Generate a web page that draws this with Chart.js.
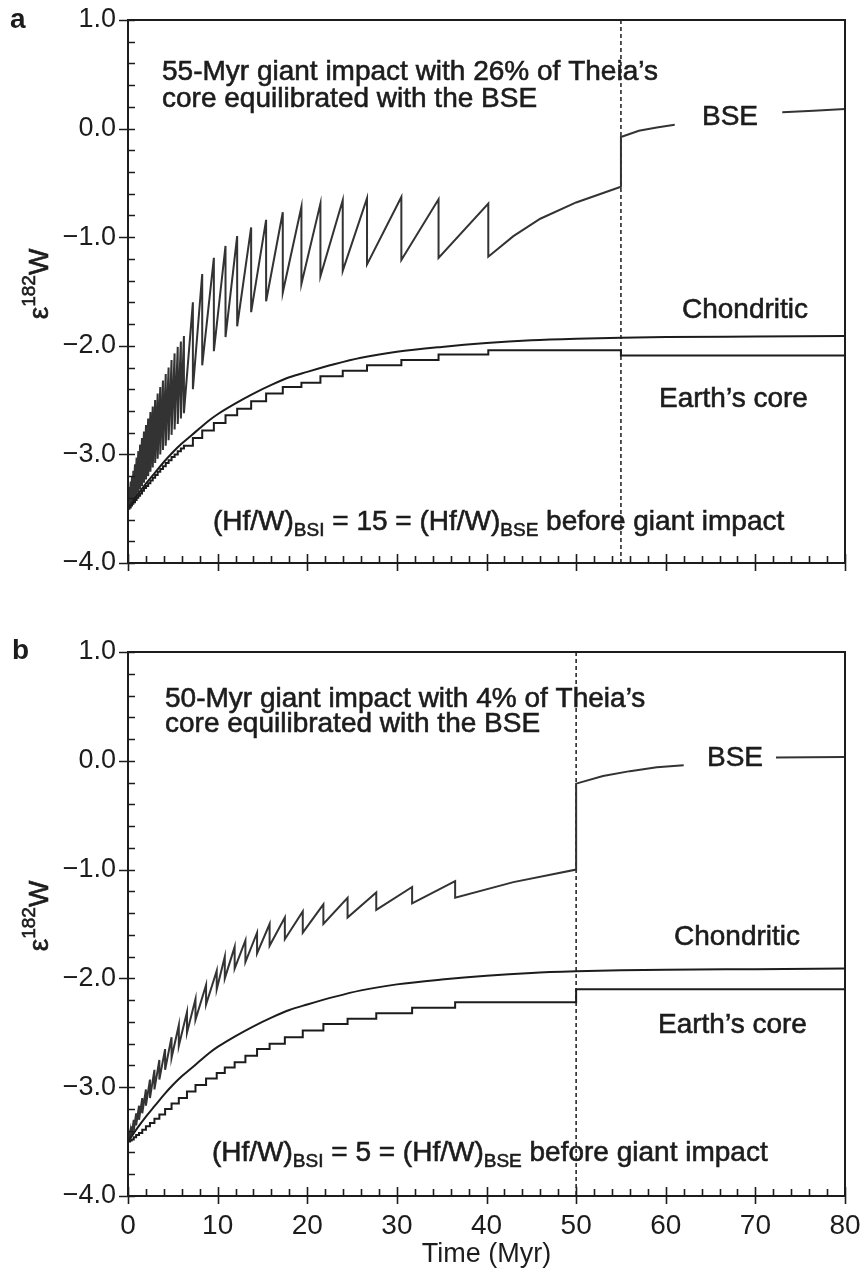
<!DOCTYPE html>
<html>
<head>
<meta charset="utf-8">
<script src="https://cdn.jsdelivr.net/npm/chart.js@4.4.1/dist/chart.umd.min.js"></script>
<style>
  html, body { margin: 0; padding: 0; background: #fff; }
  canvas { position: absolute; left: 0; display: block; }
</style>
</head>
<body>
<canvas id="panelA" width="864" height="600" style="top:0"></canvas>
<canvas id="panelB" width="864" height="679" style="top:600px"></canvas>
<script>
// ---- data (time in Myr, epsilon 182W) ----

// chondritic reference curve (same in both panels)
var chondTimes = [0, 1, 2, 3, 4, 5, 6, 7, 8, 9, 10, 12, 14, 16, 18, 20, 23, 26, 30, 35, 40, 45, 50, 55, 60, 70, 80];
var chondVals = [-3.5, -3.38, -3.27, -3.17, -3.07, -2.98, -2.9, -2.83, -2.76, -2.69, -2.63, -2.53, -2.44, -2.36, -2.29,
  -2.24, -2.17, -2.11, -2.055, -2.01, -1.975, -1.95, -1.935, -1.925, -1.92, -1.915, -1.91];

// panel a: 55-Myr giant impact
var impactsA = [0.15, 0.3, 0.45, 0.6, 0.78, 0.96, 1.15, 1.35, 1.56, 1.78, 2.01, 2.25, 2.5, 2.76, 3.03, 3.31, 3.6,
  3.9, 4.21, 4.53, 4.86, 5.2, 5.55, 5.9, 6.24, 7.24, 8.28, 9.58, 10.88, 12.18, 13.74, 15.41, 17.27, 19.35, 21.47,
  23.96, 26.67, 30.5, 34.65, 40.2];
var bsePeaksA = [-3.3, -3.25, -3.2, -3.15, -3.09, -3.03, -2.97, -2.91, -2.85, -2.79, -2.73, -2.67, -2.61, -2.56,
  -2.5, -2.44, -2.38, -2.32, -2.26, -2.2, -2.13, -2.07, -2.01, -1.96, -1.91, -1.6, -1.34, -1.19, -1.08, -0.99,
  -0.91, -0.84, -0.77, -0.72, -0.69, -0.66, -0.64, -0.63, -0.65, -0.69];
var bseTroughsA = [-3.48, -3.46, -3.44, -3.42, -3.4, -3.38, -3.35, -3.32, -3.29, -3.26, -3.23, -3.2, -3.16, -3.12,
  -3.08, -3.04, -3.0, -2.96, -2.92, -2.87, -2.82, -2.77, -2.72, -2.67, -2.62, -2.4, -2.18, -2.05, -1.92, -1.82,
  -1.69, -1.59, -1.51, -1.43, -1.36, -1.31, -1.25, -1.21, -1.19, -1.18];
var bseTailTimesA = [43, 46, 50, 55, 55, 57, 59, 61, 67, 73, 76.5, 80];
var bseTailValsA = [-0.99, -0.83, -0.68, -0.535, -0.077, -0.02, 0.01, 0.035, null, 0.15, 0.165, 0.18];
var coreTimesA = [0, 0.15, 0.3, 0.45, 0.6, 0.78, 0.96, 1.15, 1.35, 1.56, 1.78, 2.01, 2.25, 2.5, 2.76, 3.03, 3.31,
  3.6, 3.9, 4.21, 4.53, 4.86, 5.2, 5.55, 5.9, 6.24, 7.24, 8.28, 9.58, 10.88, 12.18, 13.74, 15.41, 17.27, 19.35,
  21.47, 23.96, 26.67, 30.5, 34.65, 40.2, 55, 80];
var coreValsA = [-3.5, -3.49, -3.47, -3.455, -3.44, -3.42, -3.4, -3.38, -3.36, -3.335, -3.31, -3.29, -3.265, -3.24,
  -3.215, -3.19, -3.16, -3.135, -3.11, -3.08, -3.055, -3.025, -3.0, -2.97, -2.945, -2.92, -2.85, -2.78, -2.71,
  -2.64, -2.58, -2.51, -2.44, -2.38, -2.34, -2.28, -2.23, -2.18, -2.13, -2.08, -2.04, -2.09, -2.09];

// panel b: 50-Myr giant impact
var impactsB = [0.23, 0.41, 0.64, 0.91, 1.23, 1.59, 2.0, 2.45, 2.95, 3.5, 4.14, 4.86, 5.67, 6.58, 7.53, 8.71,
  9.9, 10.8, 11.9, 13.1, 14.4, 15.8, 17.5, 19.5, 21.8, 24.5, 27.7, 31.7, 36.5];
var bsePeaksB = [-3.41, -3.36, -3.3, -3.24, -3.17, -3.1, -3.02, -2.93, -2.84, -2.75, -2.65, -2.54, -2.43, -2.31,
  -2.19, -2.06, -1.93, -1.8, -1.71, -1.65, -1.58, -1.5, -1.44, -1.385, -1.32, -1.26, -1.21, -1.16, -1.106];
var bseTroughsB = [-3.47, -3.44, -3.4, -3.35, -3.3, -3.24, -3.17, -3.1, -3.02, -2.93, -2.84, -2.73, -2.62, -2.5,
  -2.38, -2.24, -2.1, -2.0, -1.91, -1.85, -1.77, -1.7, -1.64, -1.58, -1.5, -1.44, -1.37, -1.31, -1.258];
var bseTailTimesB = [43, 50, 50, 53, 56, 59, 62, 67, 72.3, 76, 80];
var bseTailValsB = [-1.115, -1.0, -0.21, -0.14, -0.095, -0.06, -0.04, null, 0.03, 0.033, 0.035];
var coreTimesB = [0, 0.23, 0.41, 0.64, 0.91, 1.23, 1.59, 2.0, 2.45, 2.95, 3.5, 4.14, 4.86, 5.67, 6.58, 7.53, 8.71,
  9.9, 10.8, 11.9, 13.1, 14.4, 15.8, 17.5, 19.5, 21.8, 24.5, 27.7, 31.7, 36.5, 50, 80];
var coreValsB = [-3.5, -3.49, -3.48, -3.46, -3.44, -3.42, -3.39, -3.36, -3.33, -3.29, -3.25, -3.2, -3.15, -3.1,
  -3.04, -2.98, -2.92, -2.87, -2.82, -2.77, -2.71, -2.65, -2.6, -2.54, -2.48, -2.42, -2.37, -2.32, -2.27, -2.22,
  -2.1, -2.1];

// axes
var xTickLabels = [0, 10, 20, 30, 40, 50, 60, 70, 80];
var yTickLabels = [1, 0, -1, -2, -3, -4];

var INK = "#1c1c1c";
var FONT = '"Liberation Sans", Arial, Helvetica, sans-serif';

function toPoints(xs, ys) {
  return xs.map(function (x, i) { return { x: x, y: ys[i] }; });
}

// sawtooth: slow rise between impacts, sharp drop at every impact
function sawtooth(impacts, peaks, troughs, tailT, tailV) {
  var pts = [{ x: 0, y: -3.5 }];
  impacts.forEach(function (t, i) {
    pts.push({ x: t, y: peaks[i] });
    pts.push({ x: t, y: troughs[i] });
  });
  return pts.concat(toPoints(tailT, tailV));
}

function fmtY(v) {
  return (v < 0 ? "\u2212" : "") + Math.abs(v).toFixed(1);
}

// text with sub/superscripts, slightly thickened like the scanned print
function drawRich(ctx, parts, x, y, size, align) {
  var total = 0;
  parts.forEach(function (p) {
    p.size = p.sub || p.sup ? Math.round(size * 0.68) : size;
    ctx.font = p.size + "px " + FONT;
    p.w = ctx.measureText(p.t).width;
    total += p.w;
  });
  var cx = align === "center" ? x - total / 2 : align === "right" ? x - total : x;
  ctx.lineWidth = 0.6;
  ctx.strokeStyle = INK;
  parts.forEach(function (p) {
    ctx.font = p.size + "px " + FONT;
    var dy = p.sub ? size * 0.3 : p.sup ? -size * 0.36 : 0;
    ctx.fillText(p.t, cx, y + dy);
    ctx.strokeText(p.t, cx, y + dy);
    cx += p.w;
  });
}

// frame, inward ticks, annotations
var frameTicks = {
  id: "frameTicks",
  afterDatasetsDraw: function (chart, args, opts) {
    var ctx = chart.ctx, a = chart.chartArea;
    var xs = chart.scales.x, ys = chart.scales.y;
    ctx.save();
    ctx.strokeStyle = INK;
    ctx.lineWidth = 2;
    ctx.strokeRect(a.left, a.top, a.right - a.left, a.bottom - a.top);

    ctx.lineWidth = 1.6;
    ctx.beginPath();
    var v, p;
    for (v = -4; v <= 1.001; v += 0.2) {
      p = Math.round(ys.getPixelForValue(v)) + 0.5;
      var major = Math.abs(v - Math.round(v)) < 0.01;
      ctx.moveTo(a.left - (major ? 9 : 0), p);
      ctx.lineTo(a.left + 7, p);
    }
    for (v = 0; v <= 80.001; v += 2) {
      p = Math.round(xs.getPixelForValue(v)) + 0.5;
      var majorX = v % 10 === 0;
      ctx.moveTo(p, a.bottom + (majorX ? 8 : 0));
      ctx.lineTo(p, a.bottom - (majorX ? 9 : 7));
    }
    ctx.stroke();

    ctx.fillStyle = INK;
    ctx.textBaseline = "middle";
    // panel letter
    ctx.font = "bold 28px " + FONT;
    ctx.textAlign = "left";
    ctx.fillText(opts.letter, opts.letterX, opts.letterY);

    // y axis title, rotated
    ctx.save();
    ctx.translate(opts.titleX, opts.titleY);
    ctx.rotate(-Math.PI / 2);
    drawRich(ctx, [{ t: "\u03b5" }, { t: "182", sup: true }, { t: "W" }], 0, 0, 28, "center");
    ctx.restore();

    opts.notes.forEach(function (n) {
      drawRich(ctx, n.parts, n.x, n.y, 28, n.align || "left");
    });
    ctx.restore();
  }
};

function makePanel(id, cfg) {
  var lineStyle = { borderColor: INK, borderWidth: 2, pointRadius: 0, fill: false };
  return new Chart(document.getElementById(id), {
    type: "line",
    data: {
      datasets: [
        Object.assign({ data: toPoints(chondTimes, chondVals), cubicInterpolationMode: "monotone" }, lineStyle),
        Object.assign({ data: toPoints(cfg.coreT, cfg.coreV), stepped: "before" }, lineStyle),
        Object.assign({ data: cfg.bse, spanGaps: false }, lineStyle, { borderColor: "#333333" }),
        {
          data: [{ x: cfg.impact, y: 1 }, { x: cfg.impact, y: -4 }],
          borderColor: INK, borderWidth: 1.5, borderDash: [4, 3], pointRadius: 0
        }
      ]
    },
    options: {
      responsive: false,
      animation: false,
      devicePixelRatio: 1,
      layout: { padding: { top: cfg.top, right: 19, left: 0, bottom: 0 } },
      plugins: {
        legend: { display: false },
        tooltip: { enabled: false },
        frameTicks: cfg.deco
      },
      scales: {
        x: {
          type: "linear",
          min: 0,
          max: 80,
          grid: { display: false, drawTicks: false },
          border: { display: false },
          afterBuildTicks: function (s) { s.ticks = xTickLabels.map(function (v) { return { value: v }; }); },
          ticks: {
            display: cfg.xLabels,
            color: INK,
            padding: 13,
            maxRotation: 0,
            font: { family: FONT, size: 28 }
          },
          title: {
            display: cfg.xLabels,
            text: "Time (Myr)",
            color: INK,
            font: { family: FONT, size: 27 },
            padding: { top: 0, bottom: 8 }
          },
          afterFit: function (s) {
            s.height = cfg.xHeight;
            s.paddingLeft = 0;
            s.paddingRight = 0;
          }
        },
        y: {
          type: "linear",
          min: -4,
          max: 1,
          grid: { display: false, drawTicks: false },
          border: { display: false },
          afterBuildTicks: function (s) { s.ticks = yTickLabels.map(function (v) { return { value: v }; }); },
          ticks: {
            color: INK,
            padding: 12,
            callback: fmtY,
            font: { family: FONT, size: 27 }
          },
          afterFit: function (s) {
            s.width = 128;
            s.paddingTop = 0;
            s.paddingBottom = 0;
          }
        }
      }
    },
    plugins: [frameTicks]
  });
}

makePanel("panelA", {
  top: 20, xHeight: 37, xLabels: false, impact: 55,
  coreT: coreTimesA, coreV: coreValsA,
  bse: sawtooth(impactsA, bsePeaksA, bseTroughsA, bseTailTimesA, bseTailValsA),
  deco: {
    letter: "a", letterX: 10, letterY: 20, titleX: 40, titleY: 284,
    notes: [
      { x: 162, y: 72, parts: [{ t: "55-Myr giant impact with 26% of Theia\u2019s" }] },
      { x: 162, y: 99, parts: [{ t: "core equilibrated with the BSE" }] },
      { x: 730, y: 117, align: "center", parts: [{ t: "BSE" }] },
      { x: 682, y: 310, parts: [{ t: "Chondritic" }] },
      { x: 659, y: 399, parts: [{ t: "Earth\u2019s core" }] },
      { x: 213, y: 522, parts: [{ t: "(Hf/W)" }, { t: "BSI", sub: true }, { t: " = 15 = (Hf/W)" },
        { t: "BSE", sub: true }, { t: " before giant impact" }] }
    ]
  }
});

makePanel("panelB", {
  top: 52, xHeight: 83, xLabels: true, impact: 50,
  coreT: coreTimesB, coreV: coreValsB,
  bse: sawtooth(impactsB, bsePeaksB, bseTroughsB, bseTailTimesB, bseTailValsB),
  deco: {
    letter: "b", letterX: 12, letterY: 51, titleX: 40, titleY: 316,
    notes: [
      { x: 165, y: 99, parts: [{ t: "50-Myr giant impact with 4% of Theia\u2019s" }] },
      { x: 165, y: 124, parts: [{ t: "core equilibrated with the BSE" }] },
      { x: 735, y: 158, align: "center", parts: [{ t: "BSE" }] },
      { x: 674, y: 337, parts: [{ t: "Chondritic" }] },
      { x: 658, y: 425, parts: [{ t: "Earth\u2019s core" }] },
      { x: 212, y: 553, parts: [{ t: "(Hf/W)" }, { t: "BSI", sub: true }, { t: " = 5 = (Hf/W)" },
        { t: "BSE", sub: true }, { t: " before giant impact" }] }
    ]
  }
});
</script>
</body>
</html>
